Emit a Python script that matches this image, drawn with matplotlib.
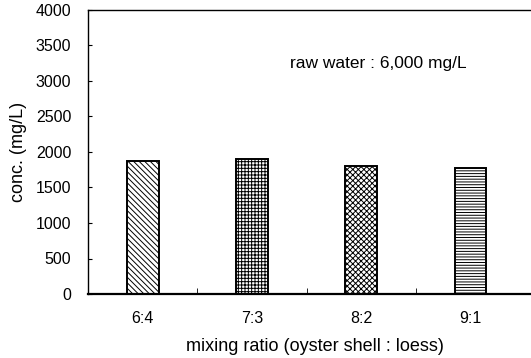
import numpy as np
import matplotlib
matplotlib.use('Agg')
from matplotlib import pyplot as plt

ratios = ['6:4', '7:3', '8:2', '9:1']
conc = [1880, 1900, 1800, 1770]
hatches = ['\\\\\\\\\\\\', '+++++', 'xxxxxx', '------']

plt.rcParams.update({'font.family': 'Liberation Sans', 'font.size': 11.5,
                     'hatch.linewidth': 0.7})

fig = plt.figure(figsize=(5.31, 3.58), dpi=100)
ax = fig.add_axes([88 / 531, 1 - 294 / 358, 1 - 88 / 531 + 0.02, 284 / 358])

x = np.arange(len(ratios))
for xi, val, h in zip(x, conc, hatches):
    ax.bar(xi, val, width=0.29, color='white', edgecolor='black',
           linewidth=1.4, hatch=h)

ax.set_xlim(-0.5, 3.65)
ax.set_ylim(0, 4000)
ax.set_yticks(range(0, 4001, 500))
ax.set_xticks(x)
ax.set_xticklabels(ratios)
ax.set_xticks(x[:-1] + 0.5, minor=True)
ax.tick_params(axis='x', which='major', length=0, pad=12)
ax.tick_params(axis='x', which='minor', direction='in', length=4)
ax.tick_params(axis='y', direction='in', length=3, pad=12)
ax.spines['right'].set_visible(False)
ax.spines['bottom'].set_linewidth(1.6)
ax.spines['left'].set_linewidth(1.0)
ax.spines['top'].set_linewidth(1.0)

ax.text(2.16, 3250, 'raw water : 6,000 mg/L', ha='center', va='center', fontsize=12.5)
ax.set_xlabel('mixing ratio (oyster shell : loess)', fontsize=13, labelpad=9)
ax.set_ylabel('conc. (mg/L)', fontsize=13, labelpad=6)

plt.savefig('out.png', dpi=100)
